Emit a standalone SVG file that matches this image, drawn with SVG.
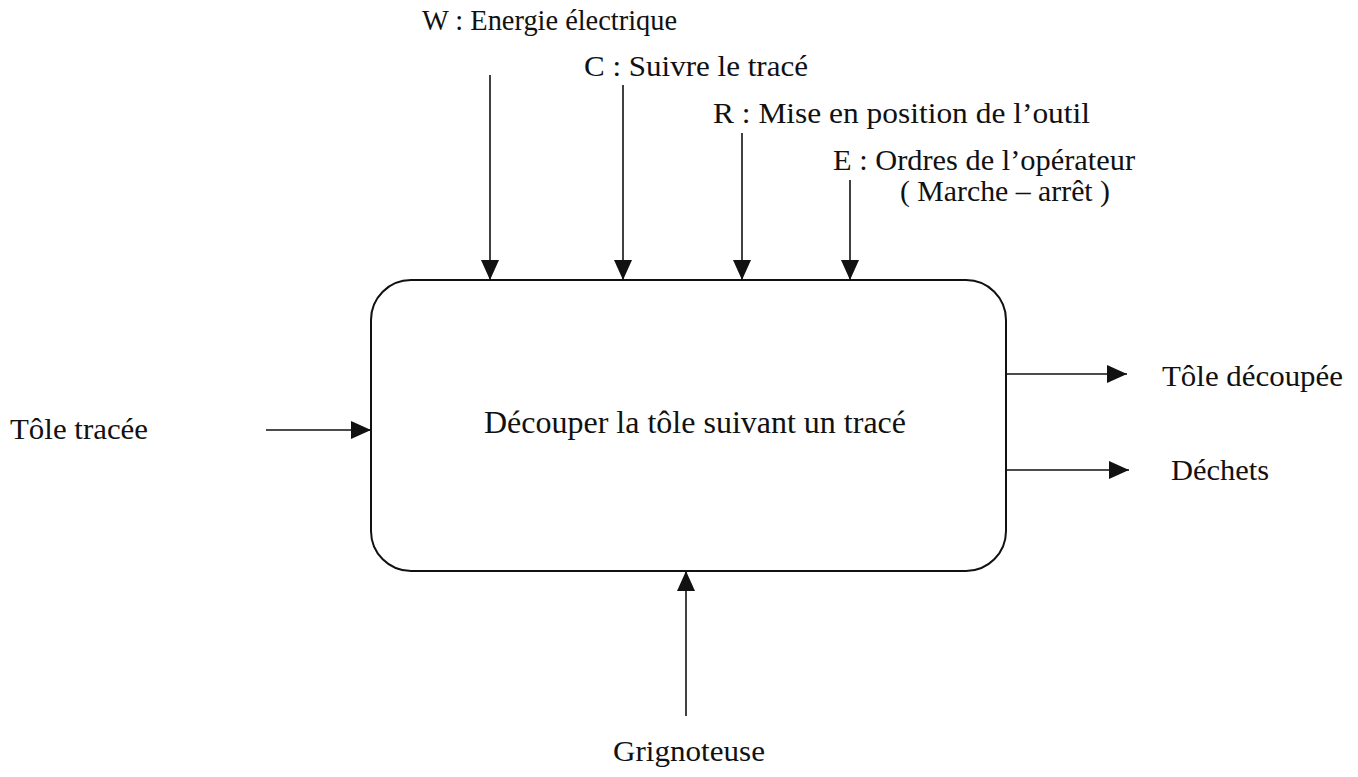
<svg xmlns="http://www.w3.org/2000/svg" width="1358" height="777" viewBox="0 0 1358 777">
<style>
.lbl{font-size:30px;}
.main{font-size:32px;}
.ln{stroke:#111;stroke-width:1.6;fill:none;}
.box{stroke:#111;stroke-width:2;fill:#fff;}
</style>
<defs>
<marker id="ah" viewBox="0 0 20 18" refX="20" refY="9" markerWidth="20" markerHeight="18" markerUnits="userSpaceOnUse" orient="auto">
<path d="M0,0 L20,9 L0,18 Z" fill="#111"/>
</marker>
</defs>
<rect width="1358" height="777" fill="#fff"/>
<g font-family="Liberation Serif, DejaVu Serif, serif" fill="#111">
<g id="process">
<rect class="box" x="371" y="280" width="635" height="291" rx="40" ry="40"/>
<text class="main" x="484" y="433" textLength="422" lengthAdjust="spacingAndGlyphs">Découper la tôle suivant un tracé</text>
</g>
<g id="connectors">
<line class="ln" x1="490" y1="75" x2="490" y2="280" marker-end="url(#ah)"/>
<line class="ln" x1="623" y1="85" x2="623" y2="280" marker-end="url(#ah)"/>
<line class="ln" x1="742" y1="133" x2="742" y2="280" marker-end="url(#ah)"/>
<line class="ln" x1="850" y1="180" x2="850" y2="280" marker-end="url(#ah)"/>
<line class="ln" x1="266" y1="430" x2="371" y2="430" marker-end="url(#ah)"/>
<line class="ln" x1="1006" y1="374" x2="1127" y2="374" marker-end="url(#ah)"/>
<line class="ln" x1="1006" y1="470" x2="1129" y2="470" marker-end="url(#ah)"/>
<line class="ln" x1="686" y1="716" x2="686" y2="571" marker-end="url(#ah)"/>
</g>
<g id="energy"><text class="lbl" x="422" y="30" textLength="255" lengthAdjust="spacingAndGlyphs">W : Energie électrique</text></g>
<g id="control"><text class="lbl" x="584" y="76" textLength="224" lengthAdjust="spacingAndGlyphs">C : Suivre le tracé</text></g>
<g id="setting"><text class="lbl" x="713" y="123" textLength="377" lengthAdjust="spacingAndGlyphs">R : Mise en position de l’outil</text></g>
<g id="operator">
<text class="lbl" x="833" y="170" textLength="302" lengthAdjust="spacingAndGlyphs">E : Ordres de l’opérateur</text>
<text class="lbl" x="900" y="201" textLength="210" lengthAdjust="spacingAndGlyphs">( Marche – arrêt )</text>
</g>
<g id="input"><text class="lbl" x="10" y="439" textLength="138" lengthAdjust="spacingAndGlyphs">Tôle tracée</text></g>
<g id="output1"><text class="lbl" x="1162" y="386" textLength="181" lengthAdjust="spacingAndGlyphs">Tôle découpée</text></g>
<g id="output2"><text class="lbl" x="1171" y="480" textLength="98" lengthAdjust="spacingAndGlyphs">Déchets</text></g>
<g id="support"><text class="lbl" x="613" y="761" textLength="152" lengthAdjust="spacingAndGlyphs">Grignoteuse</text></g>
</g>
</svg>
